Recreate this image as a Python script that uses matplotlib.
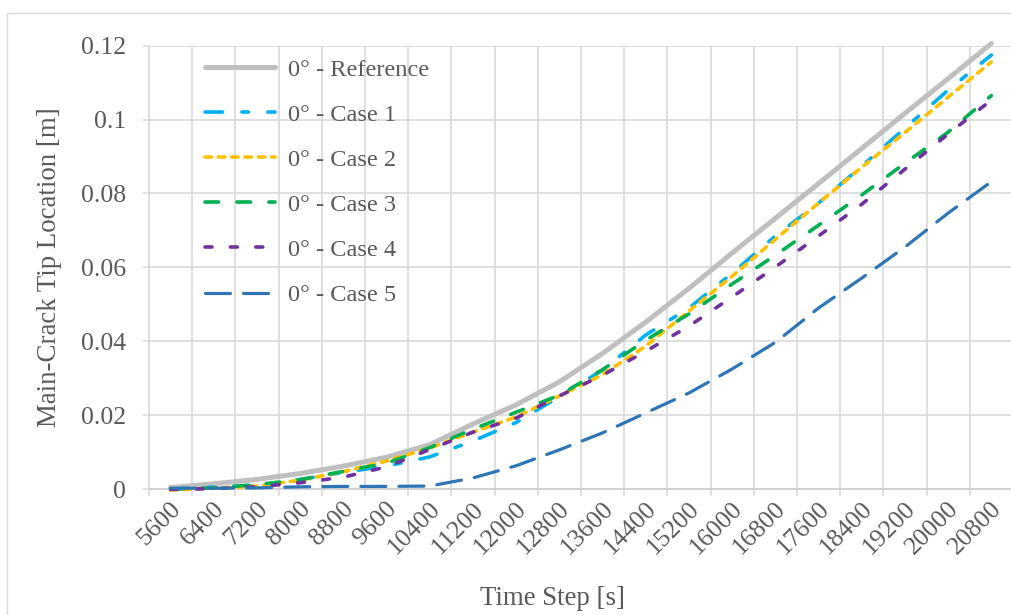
import matplotlib
matplotlib.use('Agg')
import matplotlib.pyplot as plt
from matplotlib.patches import Rectangle
import matplotlib.transforms as mtransforms
import numpy as np

plt.rcParams['font.family'] = ['Liberation Serif', 'DejaVu Serif']
plt.rcParams['lines.scale_dashes'] = False

time_steps = ['5600', '6400', '7200', '8000', '8800', '9600', '10400', '11200',
              '12000', '12800', '13600', '14400', '15200', '16000', '16800',
              '17600', '18400', '19200', '20000', '20800']

reference = [0.0004, 0.0014, 0.0026, 0.0042, 0.0062, 0.0086, 0.0120, 0.0176, 0.0228, 0.0290,
             0.0367, 0.0452, 0.0543, 0.0639, 0.0733, 0.0827, 0.0922, 0.1017, 0.1111, 0.1206]
case1 = [0.0000, 0.0005, 0.0010, 0.0026, 0.0045, 0.0062, 0.0087, 0.0130, 0.0180, 0.0250,
         0.0322, 0.0417, 0.0490, 0.0584, 0.0685, 0.0774, 0.0874, 0.0977, 0.1080, 0.1175]
case2 = [-0.0003, 0.0002, 0.0008, 0.0024, 0.0047, 0.0076, 0.0111, 0.0154, 0.0195, 0.0252,
         0.0310, 0.0387, 0.0482, 0.0576, 0.0676, 0.0774, 0.0871, 0.0965, 0.1061, 0.1156]
case3 = [0.0000, 0.0003, 0.0012, 0.0025, 0.0048, 0.0070, 0.0112, 0.0162, 0.0208, 0.0254,
         0.0323, 0.0403, 0.0474, 0.0555, 0.0633, 0.0714, 0.0796, 0.0882, 0.0966, 0.1065]
case4 = [-0.0001, 0.0001, 0.0006, 0.0017, 0.0032, 0.0060, 0.0107, 0.0154, 0.0192, 0.0252,
         0.0308, 0.0373, 0.0441, 0.0520, 0.0601, 0.0685, 0.0771, 0.0866, 0.0961, 0.1053]
case5 = [0.0002, 0.0002, 0.0003, 0.0006, 0.0007, 0.0007, 0.0008, 0.0030, 0.0063, 0.0106,
         0.0152, 0.0206, 0.0260, 0.0325, 0.0397, 0.0490, 0.0571, 0.0655, 0.0747, 0.0832]

labels = ['0° - Reference', '0° - Case 1', '0° - Case 2', '0° - Case 3', '0° - Case 4', '0° - Case 5']
y_ticks = [0, 0.02, 0.04, 0.06, 0.08, 0.10, 0.12]
y_tick_labels = ['0', '0.02', '0.04', '0.06', '0.08', '0.1', '0.12']

W, H = 1011, 615
fig = plt.figure(figsize=(W / 100, H / 100), dpi=100)
ax = fig.add_axes([149 / W, 1 - 489 / H, 864 / W, (489 - 45.7) / H])

# chart-area border
fig.add_artist(Rectangle((7 / W, -0.1), 1.2, (H - 13) / H + 0.1, transform=fig.transFigure,
                         fill=False, ec='#D9D9D9', lw=1.0))

x = np.arange(len(time_steps))
styles = [
    dict(color='#BFBFBF', lw=3.6, ls='-'),
    dict(color='#00B0F0', lw=2.6, ls=(0, (12.6, 14.0, 4.7, 14.0))),
    dict(color='#FFC000', lw=2.6, ls=(0, (4.7, 4.9))),
    dict(color='#00B050', lw=2.6, ls=(0, (9.7, 13.3))),
    dict(color='#7030A0', lw=2.6, ls=(0, (5.0, 13.3))),
    dict(color='#2E75B6', lw=2.3, ls=(0, (18.0, 9.4))),
]
for vals, lab, st in zip([reference, case1, case2, case3, case4, case5], labels, styles):
    ax.plot(x, vals, label=lab, color=st['color'], lw=st['lw'], linestyle=st['ls'],
            dash_capstyle='round', solid_capstyle='round', solid_joinstyle='round',
            dash_joinstyle='round', clip_on=False, zorder=3)

ax.set_xlim(-0.5, len(time_steps) - 0.5)
ax.set_ylim(0, 0.12)

grid_c = '#D9D9D9'
text_c = '#595959'
tick_fs = 18.5
ax.set_axisbelow(True)
ax.set_xticks(np.arange(-0.5, len(time_steps), 1.0))
ax.set_xticklabels([])
ax.set_xticks(x, minor=True)
ax.set_xticklabels(time_steps, minor=True, rotation=45, ha='right', va='center',
                   rotation_mode='anchor', fontsize=tick_fs, color=text_c)
ax.tick_params(axis='x', which='major', length=5, width=1.1, color=grid_c, direction='out')
ax.tick_params(axis='x', which='minor', length=0, pad=12)
ax.set_yticks(y_ticks)
ax.set_yticklabels(y_tick_labels, fontsize=tick_fs, color=text_c)
ax.tick_params(axis='y', length=4.3, width=1.1, color=grid_c, direction='out', pad=12)
offset = mtransforms.ScaledTranslation(7 / 100, 0, fig.dpi_scale_trans)
for lbl in ax.xaxis.get_minorticklabels():
    lbl.set_transform(lbl.get_transform() + offset)

ax.grid(True, which='major', color=grid_c, lw=1.2)
for s in ['top', 'right']:
    ax.spines[s].set_visible(False)
ax.spines['left'].set_color(grid_c)
ax.spines['bottom'].set_color('#D0D0D0')
ax.spines['left'].set_linewidth(1.2)
ax.spines['bottom'].set_linewidth(1.3)

ax.set_ylabel('Main-Crack Tip Location [m]', fontsize=19.4, color=text_c)
ax.yaxis.set_label_coords((62 - 149) / 864, 0.5)
ax.set_xlabel('Time Step [s]', fontsize=19.4, color=text_c)
ax.xaxis.set_label_coords((553 - 149) / 864, (489 - 586) / 443.3)

leg_fs = 17.6
leg = ax.legend(loc='upper left', bbox_to_anchor=((205 - 149) / 864, (489 - 58.5) / 443.3),
                frameon=False, fontsize=leg_fs, handlelength=2.87, handletextpad=0.53,
                labelspacing=0.94, borderpad=0, borderaxespad=0)
for t in leg.get_texts():
    t.set_color(text_c)

fig.savefig('out.png', dpi=100)
